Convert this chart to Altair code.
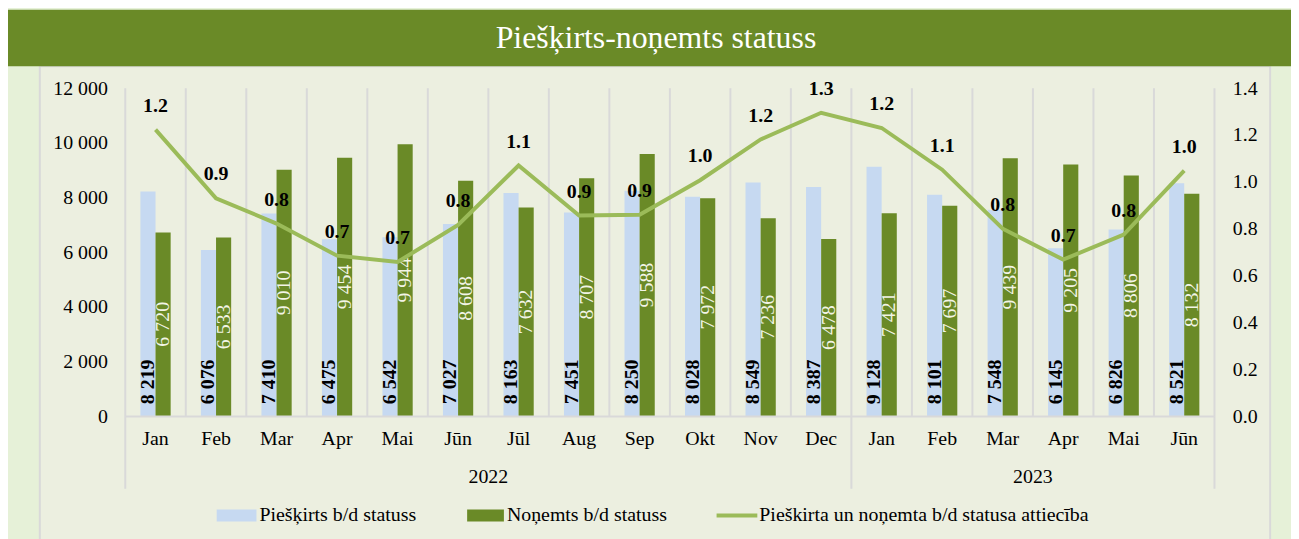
import altair as alt
import pandas as pd

# ---------------- data ----------------
months = ["Jan", "Feb", "Mar", "Apr", "Mai", "Jūn", "Jūl", "Aug", "Sep", "Okt", "Nov", "Dec",
          "Jan", "Feb", "Mar", "Apr", "Mai", "Jūn"]
years = ["2022"] * 12 + ["2023"] * 6
granted = [8219, 6076, 7410, 6475, 6542, 7027, 8163, 7451, 8250, 8028, 8549, 8387,
           9128, 8101, 7548, 6145, 6826, 8521]
revoked = [6720, 6533, 9010, 9454, 9944, 8608, 7632, 8707, 9588, 7972, 7236, 6478,
           7421, 7697, 9439, 9205, 8806, 8132]
ratio = [1.223, 0.930, 0.822, 0.685, 0.658, 0.816, 1.070, 0.856, 0.860, 1.007, 1.181, 1.295,
         1.230, 1.052, 0.800, 0.668, 0.775, 1.048]
series_names = ["Piešķirts b/d statuss", "Noņemts b/d statuss"]
line_name = "Pieškirta un noņemta b/d statusa attiecība"
title_text = "Piešķirts-noņemts statuss"
left_ticks = [0, 2000, 4000, 6000, 8000, 10000, 12000]
right_ticks = [0.0, 0.2, 0.4, 0.6, 0.8, 1.0, 1.2, 1.4]

# ---------------- styles ----------------
FONT = "Liberation Serif"
BLUE = "#C6D9F1"
GREEN = "#6A8A27"
LINE = "#9BBB59"
OUTER = "#E6F1D8"
INNER = "#ECEFE0"
GRID = "#D9D9D9"
W, H = 1096, 330
PAD_L, PAD_T = 118, 79
TOTAL_W, TOTAL_H = 1291, 531

keys = [f"{m}|{y}" for m, y in zip(months, years)]

bars_df = pd.DataFrame(
    [{"key": k, "series": series_names[0], "value": g} for k, g in zip(keys, granted)]
    + [{"key": k, "series": series_names[1], "value": r} for k, r in zip(keys, revoked)]
)
line_df = pd.DataFrame({"key": keys, "ratio": ratio})

first_of_year = [i for i in range(len(years)) if i == 0 or years[i] != years[i - 1]]
rule_df = pd.DataFrame({"key": keys, "sep": [i in first_of_year for i in range(len(keys))]})

year_rows = []
for j, s in enumerate(first_of_year):
    e = first_of_year[j + 1] if j + 1 < len(first_of_year) else len(keys)
    year_rows.append({"key": keys[s + (e - s) // 2], "year": years[s]})
year_df = pd.DataFrame(year_rows)

dummy = pd.DataFrame({"a": [0]})

x_scale = alt.Scale(domain=keys, paddingInner=0, paddingOuter=0)
x_axis = alt.Axis(title=None, labelExpr="split(datum.label, '|')[0]", labelAngle=0,
                  labelFont=FONT, labelFontSize=20, labelColor="#000000", labelPadding=13,
                  ticks=False, domainColor=GRID, domainWidth=2, grid=False, zindex=1)
x_enc = alt.X("key:N", scale=x_scale, axis=x_axis)
xoff = alt.XOffset("series:N", scale=alt.Scale(domain=series_names, paddingOuter=1, paddingInner=0))

left_axis = alt.Axis(title=None, values=left_ticks, grid=False, domain=False, ticks=False,
                     labelFont=FONT, labelFontSize=20, labelColor="#000000", labelPadding=18,
                     labelExpr="replace(format(datum.value, ','), ',', ' ')", zindex=1)
right_axis = alt.Axis(title=None, orient="right", values=right_ticks, format=".1f", grid=False,
                      domain=False, ticks=False, labelFont=FONT, labelFontSize=20,
                      labelColor="#000000", labelPadding=18, zindex=1)
y_left_scale = alt.Scale(domain=[0, 12000], nice=False)
y_right_scale = alt.Scale(domain=[0, 1.4], nice=False)

# ---------------- decorations ----------------
panel = alt.Chart(dummy).mark_rect(fill=INNER, stroke=GRID, strokeWidth=2).encode(
    x=alt.value(-86), x2=alt.value(1152), y=alt.value(-22), y2=alt.value(TOTAL_H - PAD_T + 5))
title_bar = alt.Chart(dummy).mark_rect(fill=GREEN).encode(
    x=alt.value(-PAD_L), x2=alt.value(TOTAL_W - PAD_L), y=alt.value(-PAD_T), y2=alt.value(-22))
title = alt.Chart(dummy).mark_text(text=title_text, font=FONT, fontSize=32, color="#FFFFFF",
                                   align="center", baseline="middle").encode(
    x=alt.value(534), y=alt.value(-50))

leg_y = 430
leg1_sw = alt.Chart(dummy).mark_rect(fill=BLUE).encode(
    x=alt.value(92), x2=alt.value(132), y=alt.value(leg_y - 6), y2=alt.value(leg_y + 6))
leg1_tx = alt.Chart(dummy).mark_text(text=series_names[0], font=FONT, fontSize=20, align="left",
                                     baseline="middle", color="#000000").encode(
    x=alt.value(135), y=alt.value(leg_y))
leg2_sw = alt.Chart(dummy).mark_rect(fill=GREEN).encode(
    x=alt.value(344), x2=alt.value(381), y=alt.value(leg_y - 6), y2=alt.value(leg_y + 6))
leg2_tx = alt.Chart(dummy).mark_text(text=series_names[1], font=FONT, fontSize=20, align="left",
                                     baseline="middle", color="#000000").encode(
    x=alt.value(384), y=alt.value(leg_y))
leg3_sw = alt.Chart(dummy).mark_rule(color=LINE, strokeWidth=4).encode(
    x=alt.value(595), x2=alt.value(636), y=alt.value(leg_y))
leg3_tx = alt.Chart(dummy).mark_text(text=line_name, font=FONT, fontSize=20, align="left",
                                     baseline="middle", color="#000000").encode(
    x=alt.value(638), y=alt.value(leg_y))

# ---------------- grid rules ----------------
inner_rules = alt.Chart(rule_df).transform_filter("!datum.sep").mark_rule(
    color=GRID, strokeWidth=2).encode(
    x=alt.X("key:N", scale=x_scale, axis=x_axis, bandPosition=0),
    y=alt.value(0), y2=alt.value(H))
sep_rules = alt.Chart(rule_df).transform_filter("datum.sep").mark_rule(
    color=GRID, strokeWidth=2).encode(
    x=alt.X("key:N", scale=x_scale, axis=x_axis, bandPosition=0),
    y=alt.value(0), y2=alt.value(403))
end_rule = alt.Chart(rule_df).transform_filter(alt.datum.key == keys[-1]).mark_rule(
    color=GRID, strokeWidth=2).encode(
    x=alt.X("key:N", scale=x_scale, axis=x_axis, bandPosition=1),
    y=alt.value(0), y2=alt.value(403))
year_text = alt.Chart(year_df).mark_text(font=FONT, fontSize=20, color="#000000",
                                         baseline="middle").encode(
    x=alt.X("key:N", scale=x_scale, axis=x_axis, bandPosition=0),
    y=alt.value(391), text="year:N")

# ---------------- bars ----------------
bars = alt.Chart(bars_df).mark_bar().encode(
    x=x_enc, xOffset=xoff,
    y=alt.Y("value:Q", scale=y_left_scale, axis=left_axis),
    color=alt.Color("series:N", scale=alt.Scale(domain=series_names, range=[BLUE, GREEN]),
                    legend=None))
fmt = "replace(format(datum.value, ','), ',', ' ')"
blue_lbl = alt.Chart(bars_df).transform_filter(alt.datum.series == series_names[0]).transform_calculate(
    lbl=fmt, base="0").mark_text(angle=270, align="left", baseline="middle", dx=12, font=FONT,
                                 fontSize=20, fontWeight="bold", color="#000000").encode(
    x=x_enc, xOffset=xoff, y=alt.Y("base:Q", scale=y_left_scale, axis=left_axis), text="lbl:N")
green_lbl = alt.Chart(bars_df).transform_filter(alt.datum.series == series_names[1]).transform_calculate(
    lbl=fmt, mid="datum.value / 2").mark_text(angle=270, align="center", baseline="middle",
                                              font=FONT, fontSize=20, color="#F2F4E6").encode(
    x=x_enc, xOffset=xoff, y=alt.Y("mid:Q", scale=y_left_scale, axis=left_axis), text="lbl:N")

left_layer = alt.layer(inner_rules, sep_rules, end_rule, year_text, bars, blue_lbl, green_lbl)

# ---------------- line ----------------
line = alt.Chart(line_df).mark_line(color=LINE, strokeWidth=4).encode(
    x=x_enc, y=alt.Y("ratio:Q", scale=y_right_scale, axis=right_axis))
line_lbl = alt.Chart(line_df).mark_text(dy=-24, font=FONT, fontSize=20, fontWeight="bold",
                                        color="#000000").encode(
    x=x_enc, y=alt.Y("ratio:Q", scale=y_right_scale, axis=right_axis),
    text=alt.Text("ratio:Q", format=".1f"))
right_layer = alt.layer(line, line_lbl)

decor = alt.layer(panel, title_bar, title, leg1_sw, leg1_tx, leg2_sw, leg2_tx, leg3_sw, leg3_tx)

chart = alt.layer(decor, left_layer, right_layer).resolve_scale(y="independent").properties(
    width=W, height=H,
    autosize=alt.AutoSizeParams(type="none"),
    padding={"left": PAD_L, "top": PAD_T, "right": TOTAL_W - PAD_L - W, "bottom": TOTAL_H - PAD_T - H},
    background=OUTER,
).configure_view(stroke=None)

chart.save("out.html", embed_options={"renderer": "svg", "actions": False})
